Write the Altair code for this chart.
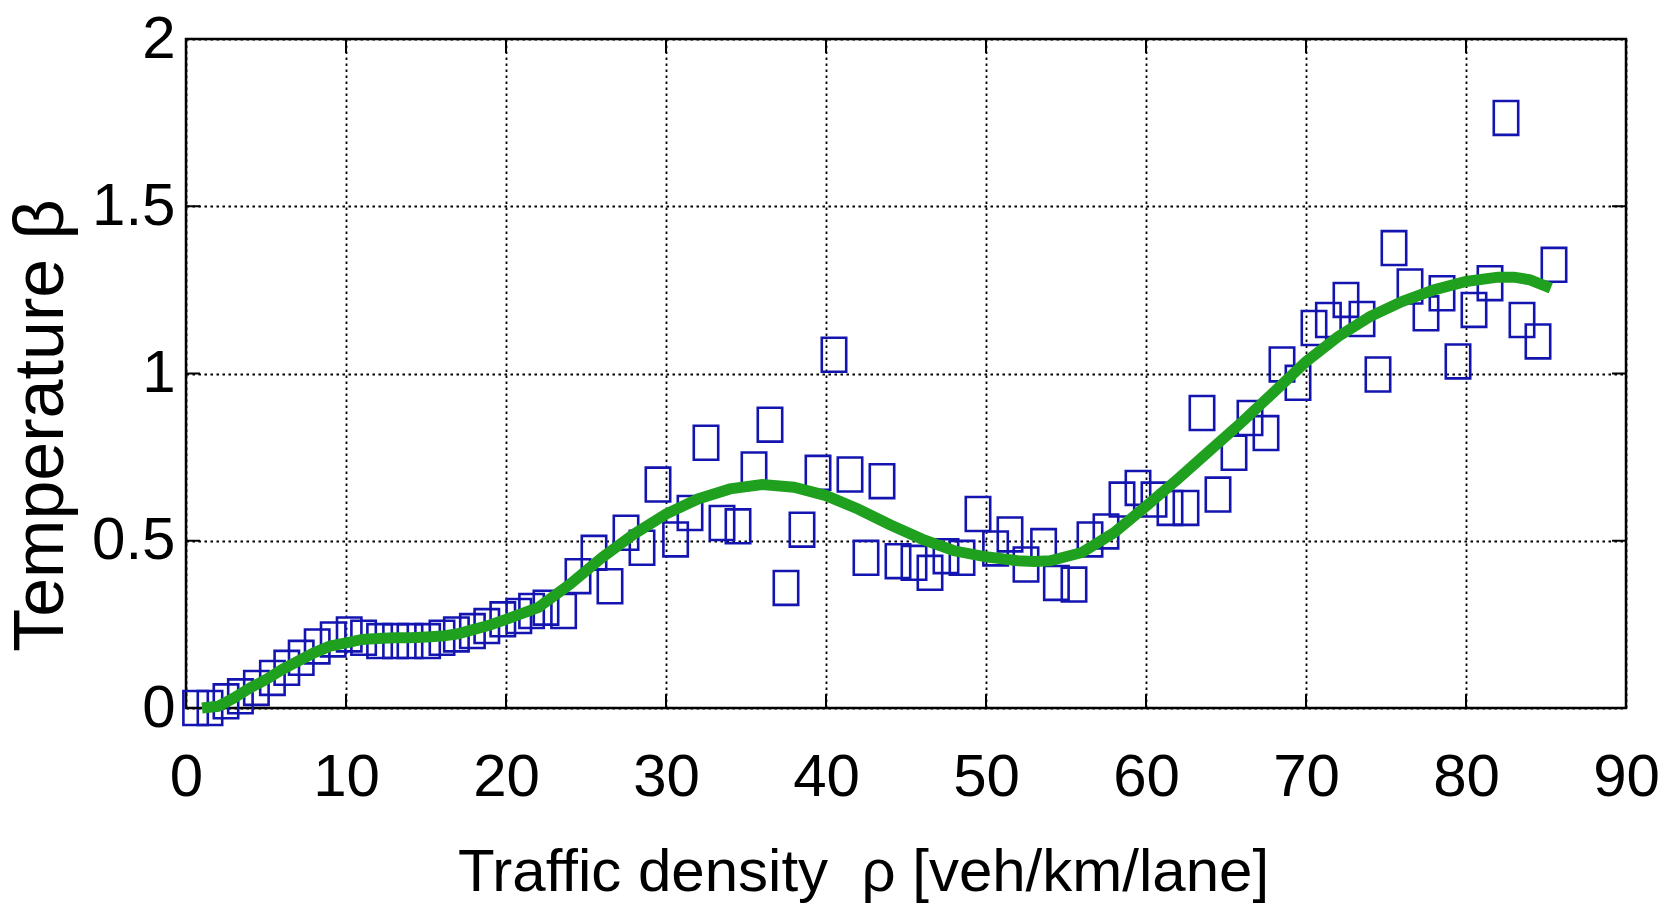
import altair as alt
import pandas as pd

# ---- data ----
rho = [0.6, 1.5, 2.5, 3.4, 4.4, 5.4, 6.3, 7.2, 8.2, 9.2,
       10.2, 11.1, 12.1, 13.1, 14.0, 15.1, 16.0, 16.9, 17.9, 18.8,
       19.8, 20.8, 21.6, 22.5, 23.6, 24.5, 25.5, 26.5, 27.5, 28.5,
       29.5, 30.6, 31.5, 32.5, 33.5, 34.5, 35.5, 36.5, 37.5, 38.5,
       39.5, 40.5, 41.5, 42.5, 43.5, 44.5, 45.5, 46.5, 47.5, 48.5,
       49.5, 50.6, 51.5, 52.5, 53.6, 54.4, 55.5, 56.5, 57.5, 58.5,
       59.5, 60.5, 61.5, 62.5, 63.5, 64.5, 65.5, 66.5, 67.5, 68.5,
       69.5, 70.5, 71.4, 72.5, 73.5, 74.5, 75.5, 76.5, 77.5, 78.5,
       79.5, 80.5, 81.5, 82.5, 83.5, 84.5, 85.5]
beta = [0.00, 0.00, 0.02, 0.035, 0.06, 0.09, 0.12, 0.15, 0.184, 0.205,
        0.22, 0.21, 0.20, 0.20, 0.20, 0.20, 0.21, 0.22, 0.23, 0.245,
        0.265, 0.275, 0.29, 0.30, 0.29, 0.394, 0.464, 0.364, 0.524, 0.479,
        0.668, 0.504, 0.583, 0.793, 0.553, 0.543, 0.713, 0.847, 0.359, 0.533,
        0.703, 1.056, 0.698, 0.449, 0.678, 0.439, 0.434, 0.404, 0.454, 0.449,
        0.580, 0.477, 0.519, 0.429, 0.484, 0.374, 0.369, 0.504, 0.528, 0.623,
        0.658, 0.623, 0.598, 0.598, 0.882, 0.638, 0.763, 0.867, 0.822, 1.027,
        0.972, 1.136, 1.160, 1.220, 1.163, 0.997, 1.375, 1.260, 1.180, 1.240,
        1.036, 1.190, 1.270, 1.764, 1.160, 1.096, 1.325]

fit_rho = [1.0, 2, 3, 4, 5, 6, 7, 8, 9, 10, 11, 12, 13, 14, 15, 16, 17, 18, 19, 20,
           22, 24, 26, 28, 30, 32, 34, 36, 38, 40, 42, 44, 46, 48, 50, 52, 53, 54,
           56, 58, 60, 62, 64, 66, 68, 70, 72, 74, 76, 78, 80, 82, 83, 84, 85.3]
fit_beta = [0.0, 0.005, 0.03, 0.06, 0.085, 0.115, 0.14, 0.165, 0.185, 0.195, 0.205,
            0.208, 0.21, 0.21, 0.212, 0.215, 0.222, 0.235, 0.248, 0.265,
            0.30, 0.37, 0.45, 0.52, 0.58, 0.625, 0.655, 0.668, 0.66, 0.635,
            0.595, 0.548, 0.505, 0.47, 0.452, 0.44, 0.438, 0.44,
            0.465, 0.524, 0.603, 0.685, 0.77, 0.855, 0.945, 1.035, 1.11, 1.17,
            1.215, 1.25, 1.275, 1.288, 1.288, 1.28, 1.255]

x_ticks = [0, 10, 20, 30, 40, 50, 60, 70, 80, 90]
y_ticks = [0, 0.5, 1, 1.5, 2]

W, H = 1440, 669
FONT = "Liberation Sans"

pts = pd.DataFrame({"rho": rho, "beta": beta})
fit = pd.DataFrame({"rho": fit_rho, "beta": fit_beta})
xt = pd.DataFrame({"rho": x_ticks})
yt = pd.DataFrame({"beta": y_ticks})

xs = alt.Scale(domain=[0, 90], nice=False, zero=False)
ys = alt.Scale(domain=[0, 2], nice=False, zero=False)

xaxis = alt.Axis(
    values=x_ticks, title="Traffic density\u00a0 ρ [veh/km/lane]",
    labelFontSize=60, labelPadding=87, labelBaseline="alphabetic",
    titleFontSize=60, titleX=677, titleY=182, titleBaseline="alphabetic",
    titleAlign="center", titleAnchor="start", titleFontWeight="normal")
yaxis = alt.Axis(
    values=y_ticks, format="~g", title="Temperature β",
    labelFontSize=60, labelPadding=11, labelBaseline="middle",
    titleFontSize=70, titleAngle=270, titleX=-124, titleY=386,
    titleBaseline="alphabetic", titleAlign="center", titleAnchor="start",
    titleFontWeight="normal")

X = alt.X("rho:Q", scale=xs, axis=xaxis)
Y = alt.Y("beta:Q", scale=ys, axis=yaxis)

square = "M-0.72,-1H0.72V1H-0.72Z"

scatter = alt.Chart(pts).mark_point(
    shape=square, size=1150, filled=False, color="#1414b0", strokeWidth=2.6, opacity=1
).encode(x=X, y=Y)

curve = alt.Chart(fit).mark_line(color="#1fa01f", strokeWidth=11, strokeCap="butt").encode(
    x=X, y=Y)

TL = 14
tick_bottom = alt.Chart(xt).mark_rule(color="black", strokeWidth=2).encode(
    x=X, y=alt.value(H), y2=alt.value(H - TL))
tick_top = alt.Chart(xt).mark_rule(color="black", strokeWidth=2).encode(
    x=X, y=alt.value(0), y2=alt.value(TL))
tick_left = alt.Chart(yt).mark_rule(color="black", strokeWidth=2).encode(
    y=Y, x=alt.value(0), x2=alt.value(TL))
tick_right = alt.Chart(yt).mark_rule(color="black", strokeWidth=2).encode(
    y=Y, x=alt.value(W), x2=alt.value(W - TL))

chart = alt.layer(scatter, curve, tick_bottom, tick_top, tick_left, tick_right).properties(
    width=W, height=H,
    autosize=alt.AutoSizeParams(type="none"),
    padding={"left": 186, "top": 39, "right": 37, "bottom": 200},
    background="white",
).configure_view(
    stroke="black", strokeWidth=2.5
).configure_axis(
    grid=True, gridColor="black", gridDash=[2.5, 3.5], gridWidth=1.8, gridOpacity=1,
    domain=False, ticks=False,
    labelFont=FONT, titleFont=FONT, labelColor="black", titleColor="black",
    labelOverlap=False, labelFlush=False,
)

chart.save("out.html", embed_options={"renderer": "svg", "actions": False})
